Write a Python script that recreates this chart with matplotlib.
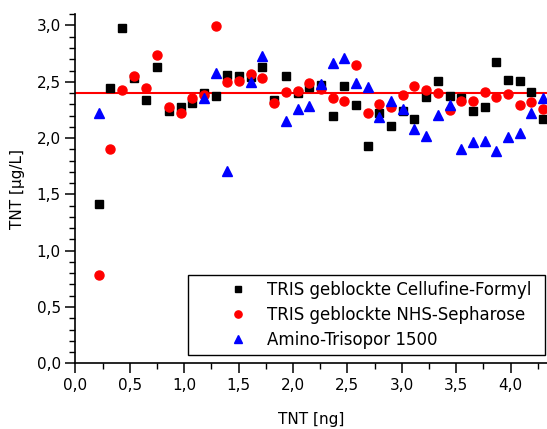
import numpy as np
import matplotlib
matplotlib.use('Agg')
import matplotlib.pyplot as plt
from matplotlib.ticker import MultipleLocator, FuncFormatter

nan = np.nan

tnt_ng = [0.215, 0.322, 0.43, 0.537, 0.645, 0.752, 0.86, 0.967, 1.075, 1.182,
          1.29, 1.397, 1.505, 1.612, 1.72, 1.827, 1.935, 2.042, 2.15, 2.257,
          2.365, 2.472, 2.58, 2.687, 2.795, 2.902, 3.01, 3.117, 3.225, 3.332,
          3.44, 3.547, 3.655, 3.762, 3.87, 3.977, 4.085, 4.192, 4.3]

cellufine = [1.418, 2.442, 2.978, 2.531, 2.338, 2.634, 2.241, 2.279, 2.309, 2.403,
             2.377, 2.56, 2.551, 2.54, 2.634, 2.338, 2.554, 2.398, 2.451, 2.474,
             2.199, 2.463, 2.294, 1.93, 2.22, 2.107, 2.238, 2.173, 2.362, 2.507,
             2.374, 2.359, 2.241, 2.276, 2.679, 2.513, 2.504, 2.407, 2.167]

sepharose = [0.787, 1.903, 2.424, 2.549, 2.448, 2.738, 2.273, 2.22, 2.356, 2.383,
             2.996, 2.501, 2.51, 2.569, 2.531, 2.315, 2.409, 2.418, 2.49, 2.436,
             2.359, 2.327, 2.652, 2.22, 2.303, 2.276, 2.38, 2.463, 2.427, 2.403,
             2.25, 2.327, 2.33, 2.409, 2.365, 2.389, 2.294, 2.318, 2.256]

trisopor = [2.226, nan, nan, nan, nan, nan, nan, nan, nan, 2.353,
            2.575, 1.71, nan, 2.495, 2.729, nan, 2.152, 2.258, 2.285, 2.48,
            2.664, 2.709, 2.492, 2.456, 2.185, 2.33, 2.256, 2.081, 2.021, 2.202,
            2.294, 1.903, 1.965, 1.971, 1.885, 2.012, 2.048, 2.22, 2.359]

reference = 2.40

plt.rcParams['font.family'] = 'DejaVu Sans'
plt.rcParams['font.size'] = 11

fig = plt.figure(figsize=(5.47, 4.29), dpi=100)
ax = fig.add_axes([0.1377, 0.1531, 0.8623, 0.8138])

ax.axhline(reference, color='red', lw=1.5, zorder=1)
ax.plot(tnt_ng, cellufine, ls='none', marker='s', ms=6, color='black',
        label='TRIS geblockte Cellufine-Formyl', zorder=3)
ax.plot(tnt_ng, sepharose, ls='none', marker='o', ms=6.5, color='red',
        label='TRIS geblockte NHS-Sepharose', zorder=3)
ax.plot(tnt_ng, trisopor, ls='none', marker='^', ms=7, color='blue',
        label='Amino-Trisopor 1500', zorder=3)

ax.set_xlim(0, 4.335)
ax.set_ylim(0, 3.1)

ax.spines['top'].set_visible(False)
ax.spines['right'].set_visible(False)
ax.spines['left'].set_linewidth(1.2)
ax.spines['bottom'].set_linewidth(1.2)

ax.xaxis.set_major_locator(MultipleLocator(0.5))
ax.xaxis.set_minor_locator(MultipleLocator(0.25))
ax.yaxis.set_major_locator(MultipleLocator(0.5))
ax.yaxis.set_minor_locator(MultipleLocator(0.1))
comma = FuncFormatter(lambda v, p: f'{v:.1f}'.replace('.', ','))
ax.xaxis.set_major_formatter(comma)
ax.yaxis.set_major_formatter(comma)
ax.tick_params(which='major', direction='out', length=7, width=1.1, labelsize=11)
ax.tick_params(which='minor', direction='out', length=4, width=1.0)

ax.set_xlabel('TNT [ng]', fontsize=11, labelpad=14)
ax.set_ylabel('TNT [µg/L]', fontsize=11, labelpad=8)

leg = ax.legend(loc='lower left', bbox_to_anchor=(0.2396, 0.0238, 0.7562, 0.23),
                mode='expand', borderaxespad=0, numpoints=1, fancybox=False,
                edgecolor='black', framealpha=1, fontsize=12, borderpad=0.35,
                labelspacing=0.42, handlelength=5.2, handletextpad=-0.84,
                markerscale=0.8)
leg.get_frame().set_linewidth(1.0)

fig.savefig('out.png', dpi=100)
